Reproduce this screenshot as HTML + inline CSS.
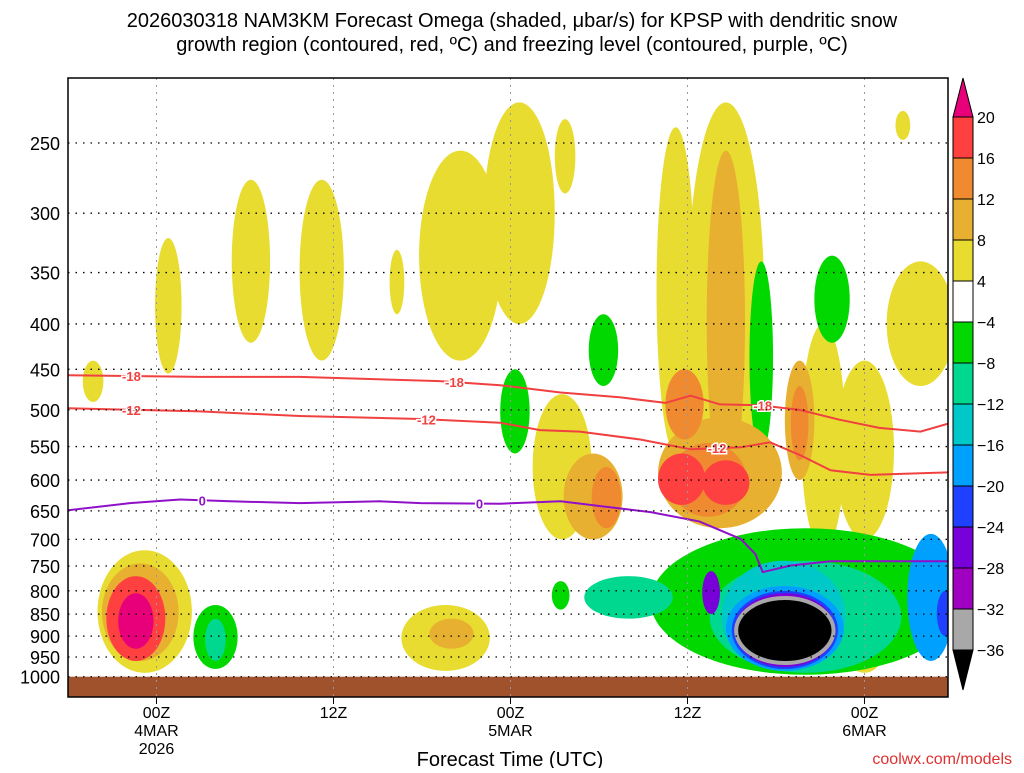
<!DOCTYPE html>
<html><head><meta charset="utf-8"><style>
body{margin:0;background:#fff;}
svg text{font-family:"Liberation Sans",sans-serif;}
</style></head><body>
<svg id="c" width="1024" height="768" xmlns="http://www.w3.org/2000/svg">
<defs><clipPath id="clip"><rect x="68" y="78" width="880" height="619"/></clipPath></defs>
<text x="512" y="27" text-anchor="middle" font-size="20">2026030318 NAM3KM Forecast Omega (shaded, μbar/s) for KPSP with dendritic snow</text>
<text x="512" y="51" text-anchor="middle" font-size="20">growth region (contoured, red, ºC) and freezing level (contoured, purple, ºC)</text>
<g id="plot" clip-path="url(#clip)"></g>
<g id="ax"></g>
<rect x="68" y="78" width="880" height="619" fill="none" stroke="#000" stroke-width="1.5"/>
<g id="cb"></g>
<text x="510" y="766" text-anchor="middle" font-size="20">Forecast Time (UTC)</text>
<text x="1012" y="764" text-anchor="end" font-size="16" fill="#e03030">coolwx.com/models</text>
</svg>
<script>
const NS="http://www.w3.org/2000/svg";
// ---- data ----
const pressureTicks=[250,300,350,400,450,500,550,600,650,700,750,800,850,900,950,1000];
const timeTicks=[6,18,30,42,54];
const timeTickLabels=["00Z","12Z","00Z","12Z","00Z"];
const dateLabels=["4MAR","","5MAR","","6MAR"];
const cbLevels=[20,16,12,8,4,-4,-8,-12,-16,-20,-24,-28,-32,-36];
const cbColors=["#e8007a","#ff4040","#f08a30","#e8b030","#e8dc30","#ffffff","#00d800","#00d890","#00c8c8","#00a0ff","#2040ff","#7800d8","#a000c0","#a8a8a8","#000000"];
// blobs: time(h), half-width(h), top p, bottom p, level (1..5 positive, -1..-9 negative)
const blobT=[6.8,1.7,12.4,17.2,22.3,26.6,30.6,33.7,41.2,44.6,44.6,33.5,51.2,54,57.8,56.6,5.2,4.9,4.6,4.6,25.6,26,54,35.6,36.5,44.2,43.4,41.6,49.6,49.6,44.6,41.8,
 30.3,36.3,47,51.8,33.4,10,10,50,38,50,48.5,43.6,58.5,48.6,48.6,48.6,48.6,48.6,59.5];
const blobW=[0.9,0.7,1.3,1.5,0.5,2.8,2.4,0.7,1.3,2.6,1.3,2.0,1.5,2.0,2.3,0.5,3.2,2.6,2.0,1.2,3.0,1.5,1.4,2.0,1.0,4.2,2.6,1.6,1.0,0.6,1.6,1.3,
 1.0,1.0,0.8,1.2,0.6,1.5,0.7,10.5,3.0,6.5,4.2,0.6,1.6,4.0,3.6,3.4,3.2,3.3,0.6];
const blobTop=[320,440,275,275,330,255,225,235,240,225,255,480,400,440,340,230,720,745,770,805,830,860,860,560,580,510,545,560,440,470,570,450,
 450,390,340,335,780,830,860,680,770,740,740,760,690,790,800,805,810,815,800];
const blobBot=[455,490,420,440,390,440,400,285,560,640,620,700,720,700,470,248,990,960,960,930,985,930,990,700,680,680,660,640,600,570,640,540,
 560,470,560,420,840,980,960,995,860,990,985,850,960,985,980,975,970,965,900];
const blobLvl=[1,1,1,1,1,1,1,1,1,1,2,1,1,1,1,1,1,2,4,5,1,2,1,2,3,2,3,4,2,3,4,3,
 -1,-1,-1,-1,-1,-1,-2,-1,-2,-2,-3,-6,-4,-4,-5,-6,-7,-9,-5];
// contour lines (time h, pressure hPa)
const c18T=[0,8.95,15.7,25.2,29.3,33.4,37.4,40.5,42.2,44.2,46.9,49.6,52.3,55,57.8,59.7];
const c18P=[457,459,459,464,469,478,484,491,482,493,494,500,513,524,529,518];
const c12T=[0,8.95,15.7,23.9,29.3,32,34.7,38.8,42.2,45.6,47.6,49.6,51.7,54.4,59.7];
const c12P=[498,502,508,512,517,527,529,540,554,551,544,562,585,592,588];
const c0T=[0,4.2,7.6,11,15.7,21.2,23.9,29.3,33.4,36.1,39.5,42.8,45.6,46.6,47.1,49,51.7,59.7];
const c0P=[649,637,631,634,637,634,637,638,634,642,652,668,699,727,762,749,741,741];
const lbl18T=[4.3,26.2,47.1], lbl12T=[4.3,24.3,44], lbl0T=[9.1,27.9];
// ---- axes ----
const X=h=>68+h*14.75;
const Y=p=>143+Math.log(p/250)*385;
const interp=(T,P,t)=>{for(let i=0;i<T.length-1;i++){if(t>=T[i]&&t<=T[i+1]){const f=(t-T[i])/(T[i+1]-T[i]);return P[i]+f*(P[i+1]-P[i]);}}return P[P.length-1];};
function mk(tag,attrs,parent){const e=document.createElementNS(NS,tag);for(const k in attrs)e.setAttribute(k,attrs[k]);parent.appendChild(e);return e;}
const plot=document.getElementById('plot'),ax=document.getElementById('ax'),cb=document.getElementById('cb');
function lvlColor(l){return cbColors[5-l];}
const order=blobLvl.map((l,i)=>i).sort((a,b)=>Math.abs(blobLvl[a])-Math.abs(blobLvl[b]));
order.forEach(i=>{
  const cx=X(blobT[i]),rx=blobW[i]*14.75,y1=Y(blobTop[i]),y2=Y(blobBot[i]);
  const e=mk('ellipse',{cx:cx,cy:(y1+y2)/2,rx:rx,ry:(y2-y1)/2,fill:lvlColor(blobLvl[i])},plot);
  if(blobLvl[i]===-9){e.setAttribute('stroke','#a8a8a8');e.setAttribute('stroke-width','4');}
  
  
});
const g=mk('rect',{x:68,y:Y(1000),width:880,height:697-Y(1000),fill:'#a0522d'},plot);


pressureTicks.forEach(p=>{
  const l=mk('line',{x1:68,x2:948,y1:Y(p),y2:Y(p),stroke:'#000','stroke-width':1.3,'stroke-dasharray':'1.5 6'},ax);
  
  
  const t=mk('text',{x:60,y:Y(p)+7,'text-anchor':'end','font-size':18},ax);t.textContent=p;
  
  
});
timeTicks.forEach((h,i)=>{
  const l=mk('line',{x1:X(h),x2:X(h),y1:78,y2:697,stroke:'#999','stroke-width':1,'stroke-dasharray':'2 5'},ax);
  
  
  mk('line',{x1:X(h),x2:X(h),y1:697,y2:704,stroke:'#000'},ax);
  const t=mk('text',{x:X(h),y:718,'text-anchor':'middle','font-size':16},ax);t.textContent=timeTickLabels[i];
  
  
  if(dateLabels[i]){const d=mk('text',{x:X(h),y:736,'text-anchor':'middle','font-size':16},ax);d.textContent=dateLabels[i];
  
  }
});
const yr=mk('text',{x:X(6),y:754,'text-anchor':'middle','font-size':16},ax);yr.textContent='2026';


function line(T,P,col,name,lbls,txt){
  const d=T.map((t,i)=>(i?'L':'M')+X(t).toFixed(1)+','+Y(P[i]).toFixed(1)).join('');
  const l=mk('path',{d:d,fill:'none',stroke:col,'stroke-width':2},plot);
  
  
  lbls.forEach(t=>{const x=X(t),y=Y(interp(T,P,t));
    const tx=mk('text',{x:x,y:y+5,'text-anchor':'middle','font-size':13,'font-weight':'bold',fill:col,stroke:'#fff','stroke-width':3,'paint-order':'stroke'},plot);tx.textContent=txt;
    
    });
}
line(c18T,c18P,'#f04040','contour-minus18',lbl18T,'-18');
line(c12T,c12P,'#f04040','contour-minus12',lbl12T,'-12');
line(c0T,c0P,'#9010c8','freezing-level',lbl0T,'0');
// colorbar
const cbTop=117,step=41,cx0=953,cw=20;
const tri=mk('path',{d:`M${cx0},${cbTop}L${cx0+cw/2},78L${cx0+cw},${cbTop}Z`,fill:cbColors[0],stroke:'#000'},cb);


for(let i=0;i<13;i++){const r=mk('rect',{x:cx0,y:cbTop+i*step,width:cw,height:step,fill:cbColors[i+1],stroke:'#000'},cb);
 
 }
const bt=cbTop+13*step;
const tri2=mk('path',{d:`M${cx0},${bt}L${cx0+cw/2},690L${cx0+cw},${bt}Z`,fill:'#000',stroke:'#000'},cb);


cbLevels.forEach((v,i)=>{const t=mk('text',{x:977,y:cbTop+i*step+6,'font-size':16},cb);t.textContent=v<0?'\u2212'+(-v):v;
 
 });
</script>
</body></html>
